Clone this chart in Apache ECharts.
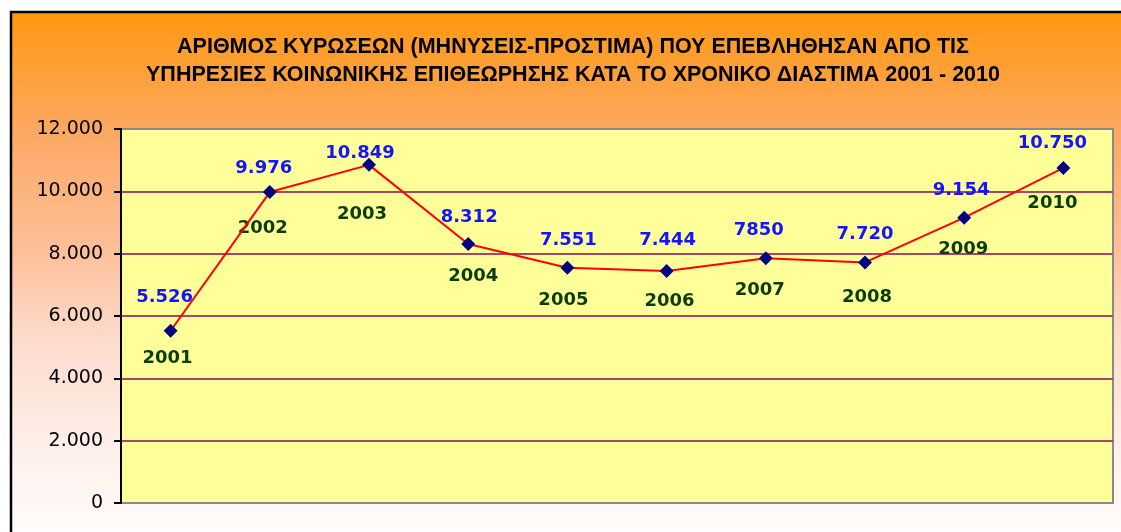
<!DOCTYPE html>
<html>
<head>
<meta charset="utf-8">
<script src="https://cdn.jsdelivr.net/npm/echarts@6/dist/echarts.min.js"></script>
<style>
  html, body { margin: 0; padding: 0; background: #fff; }
  #main { width: 1121px; height: 532px; }
</style>
</head>
<body>
<div id="main"></div>
<script>
// δεδομένα
var years = ['2001', '2002', '2003', '2004', '2005', '2006', '2007', '2008', '2009', '2010'];
var sanctions = [5526, 9976, 10849, 8312, 7551, 7444, 7850, 7720, 9154, 10750];
// ετικέτες όπως εμφανίζονται στο γράφημα (το 7850 χωρίς τελεία)
var valueLabels = ['5.526', '9.976', '10.849', '8.312', '7.551', '7.444', '7850', '7.720', '9.154', '10.750'];
var yTicks = [0, 2000, 4000, 6000, 8000, 10000, 12000];

var titleText = 'ΑΡΙΘΜΟΣ ΚΥΡΩΣΕΩΝ (ΜΗΝΥΣΕΙΣ-ΠΡΟΣΤΙΜΑ) ΠΟΥ ΕΠΕΒΛΗΘΗΣΑΝ ΑΠΟ ΤΙΣ\n' +
  'ΥΠΗΡΕΣΙΕΣ ΚΟΙΝΩΝΙΚΗΣ ΕΠΙΘΕΩΡΗΣΗΣ ΚΑΤΑ ΤΟ ΧΡΟΝΙΚΟ ΔΙΑΣΤΙΜΑ 2001 - 2010';

// μικρές μετακινήσεις ετικετών (στο excel είχαν μετακινηθεί με το χέρι)
var valueNudge = [[-6, -1], [-6, 8], [-9, 20], [1, 5], [1, 5], [1, 1], [-7, 4], [0, 4], [-3, 5], [-11, 7]];
var yearNudge = [[-3, -2], [-7, 6], [-7, 19], [5, 2], [-4, 3], [3, 0], [-6, 2], [2, 5], [-1, 2], [-11, 5]];

function dots(v) {
  return String(v).replace(/\B(?=(\d{3})+(?!\d))/g, '.');
}

var chart = echarts.init(document.getElementById('main'));

// γραμμές πλέγματος: πάνω και κάτω γκρι όπως το πλαίσιο
var gridColors = yTicks.map(function (t, i) {
  return (i === 0 || i === yTicks.length - 1) ? '#8a8a8a' : '#A34869';
});

var valueData = sanctions.map(function (v, i) {
  return { value: v, label: { offset: valueNudge[i] } };
});
var yearData = sanctions.map(function (v, i) {
  return { value: v, label: { offset: yearNudge[i] } };
});

var option = {
  backgroundColor: '#ffffff',
  animation: false,
  graphic: [
    {
      type: 'rect',
      z: -100,
      shape: { x: 11, y: 12, width: 1200, height: 600 },
      style: {
        fill: new echarts.graphic.LinearGradient(0, 0, 0, 1, [
          { offset: 0, color: '#FF980F' },
          { offset: 0.2, color: '#FDA862' },
          { offset: 0.4, color: '#FCC09A' },
          { offset: 0.55, color: '#FDDCCD' },
          { offset: 0.73, color: '#FEF0EA' },
          { offset: 0.87, color: '#FFFCFB' },
          { offset: 1, color: '#FFFFFF' }
        ]),
        stroke: '#000',
        lineWidth: 2.5
      }
    },
    {
      type: 'text',
      x: 573,
      y: 61,
      style: {
        text: titleText,
        align: 'center',
        verticalAlign: 'middle',
        textAlign: 'center',
        textVerticalAlign: 'middle',
        fill: '#000',
        font: 'bold 21.5px "Liberation Sans Narrow", "Liberation Sans", Arial, sans-serif',
        lineHeight: 28
      }
    }
  ],
  grid: {
    left: 121,
    top: 129,
    right: 8,
    bottom: 29,
    show: true,
    backgroundColor: '#FFFF99',
    borderColor: '#8a8a8a',
    borderWidth: 2
  },
  xAxis: {
    type: 'category',
    data: years,
    boundaryGap: true,
    axisLine: { show: false },
    axisTick: { show: false },
    axisLabel: { show: false },
    splitLine: { show: false }
  },
  yAxis: {
    type: 'value',
    min: yTicks[0],
    max: yTicks[yTicks.length - 1],
    interval: 2000,
    axisLine: { show: true, lineStyle: { color: '#000', width: 2 } },
    axisTick: { show: true, length: 7, lineStyle: { color: '#000', width: 2 } },
    axisLabel: {
      margin: 18,
      color: '#000',
      fontSize: 19,
      fontFamily: '"DejaVu Sans", Verdana, sans-serif',
      formatter: function (v) { return dots(v); }
    },
    splitLine: { show: true, lineStyle: { color: gridColors, width: 2 } }
  },
  series: [
    {
      name: 'Κυρώσεις',
      type: 'line',
      data: valueData,
      symbol: 'diamond',
      symbolSize: 14,
      lineStyle: { color: '#FF0000', width: 2 },
      itemStyle: { color: '#000080' },
      label: {
        show: true,
        position: 'top',
        distance: 16,
        color: '#1414FF',
        fontSize: 18,
        fontWeight: 'bold',
        fontFamily: '"DejaVu Sans", Verdana, sans-serif',
        formatter: function (p) { return valueLabels[p.dataIndex]; }
      },
      z: 3
    },
    {
      name: 'Έτη',
      type: 'line',
      data: yearData,
      symbol: 'diamond',
      symbolSize: 14,
      silent: true,
      lineStyle: { color: 'rgba(0,0,0,0)', width: 0 },
      itemStyle: { color: 'rgba(0,0,0,0)' },
      label: {
        show: true,
        position: 'bottom',
        distance: 14,
        color: '#0B3D0B',
        fontSize: 18,
        fontWeight: 'bold',
        fontFamily: '"DejaVu Sans", Verdana, sans-serif',
        formatter: function (p) { return years[p.dataIndex]; }
      },
      z: 2
    }
  ]
};

chart.setOption(option);
</script>
</body>
</html>
